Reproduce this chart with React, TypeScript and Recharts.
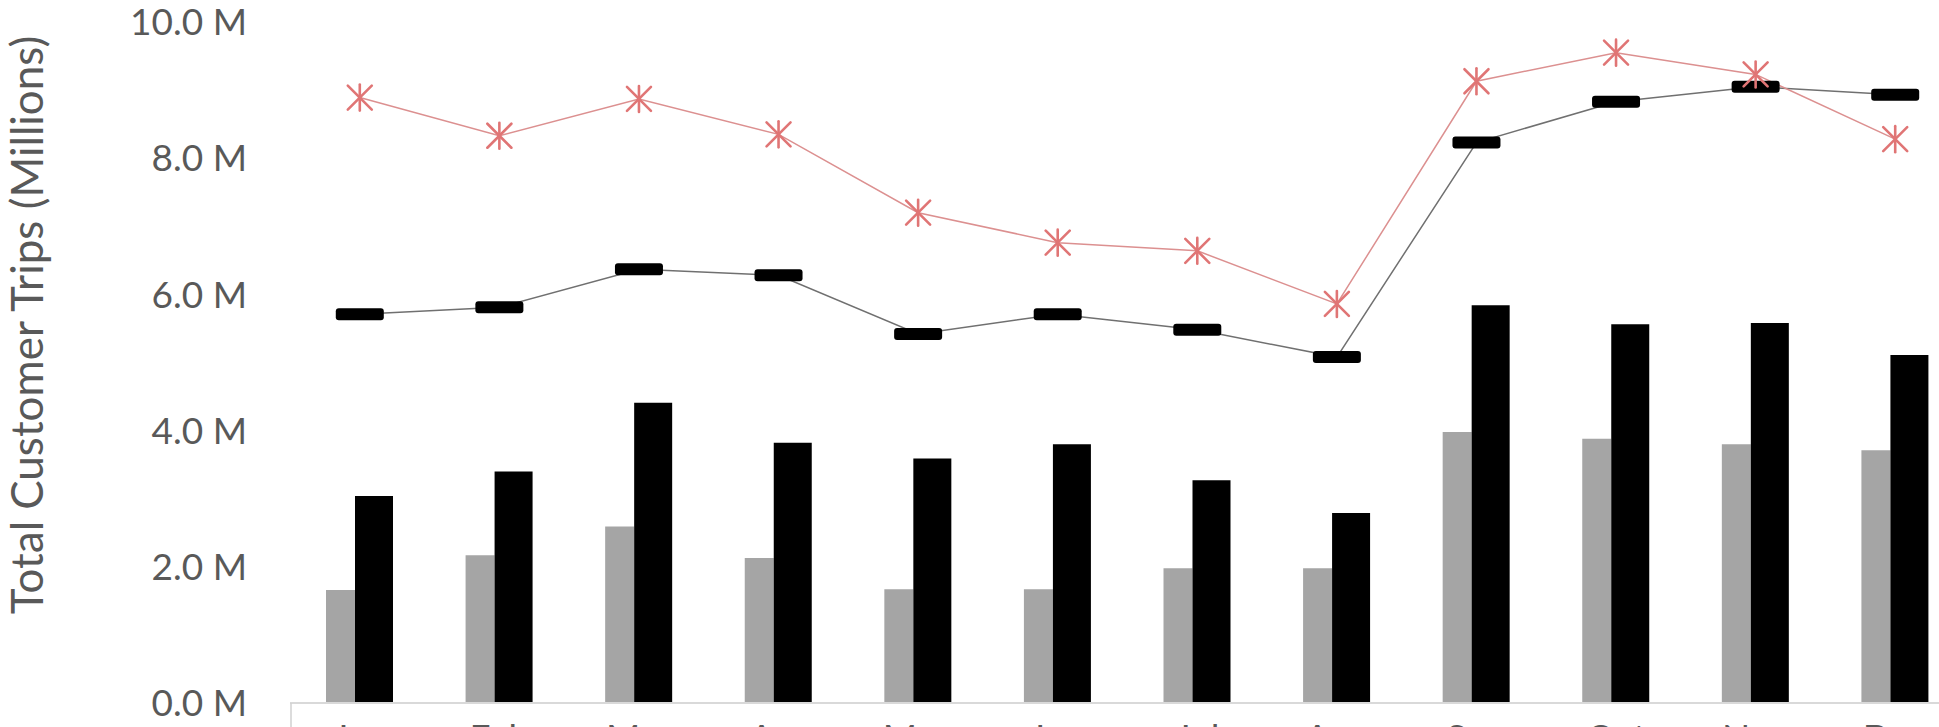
import {
  ComposedChart,
  Bar,
  Line,
  XAxis,
  YAxis,
} from 'recharts';

const MONTHS = ['Jan', 'Feb', 'Mar', 'Apr', 'May', 'Jun', 'Jul', 'Aug', 'Sep', 'Oct', 'Nov', 'Dec'];
// values in millions of trips
const GRAY_BARS = [1.66, 2.17, 2.59, 2.13, 1.67, 1.67, 1.98, 1.98, 3.98, 3.88, 3.8, 3.71];
const BLACK_BARS = [3.04, 3.4, 4.41, 3.82, 3.59, 3.8, 3.27, 2.79, 5.84, 5.56, 5.58, 5.11];
const DASH_LINE = [5.71, 5.81, 6.37, 6.28, 5.42, 5.71, 5.48, 5.08, 8.23, 8.83, 9.05, 8.93];
const STAR_LINE = [8.89, 8.33, 8.87, 8.35, 7.2, 6.76, 6.64, 5.86, 9.13, 9.55, 9.23, 8.28];
const Y_TICKS = [0, 2, 4, 6, 8, 10];

const FONT = 'Lato, "DejaVu Sans", sans-serif';
const TEXT_GRAY = '#595959';

const data = MONTHS.map((month, i) => ({
  month,
  gray: GRAY_BARS[i],
  black: BLACK_BARS[i],
  dash: DASH_LINE[i],
  star: STAR_LINE[i],
}));

function StarDot(props: any) {
  const { cx, cy } = props;
  if (cx == null || cy == null) return null;
  const r = 12;
  return (
    <g stroke="#E07575" strokeWidth={2.6} strokeLinecap="round">
      <line x1={cx} y1={cy - r - 1} x2={cx} y2={cy + r + 1} />
      <line x1={cx - r} y1={cy - r} x2={cx + r} y2={cy + r} />
      <line x1={cx - r} y1={cy + r} x2={cx + r} y2={cy - r} />
    </g>
  );
}

function DashDot(props: any) {
  const { cx, cy } = props;
  if (cx == null || cy == null) return null;
  return <rect x={cx - 24} y={cy - 6} width={48} height={12} rx={3} fill="#000" />;
}

function MonthTick(props: any) {
  const { x, y, payload, index } = props;
  const half = payload && payload.offset ? payload.offset : 70;
  return (
    <g>
      {index === 0 && (
        <line x1={x - half + 1} y1={y} x2={x - half + 1} y2={y + 30} stroke="#d0d0d0" strokeWidth={1.5} />
      )}
      <text
        x={x}
        y={y + 22}
        dy="0.71em"
        textAnchor="middle"
        fill={TEXT_GRAY}
        fontSize={37}
        fontFamily={FONT}
      >
        {payload.value}
      </text>
    </g>
  );
}

function AxisTitle() {
  return (
    <text
      x={26}
      y={325}
      transform="rotate(-90 26 325)"
      textAnchor="middle"
      dominantBaseline="central"
      fill={TEXT_GRAY}
      fontSize={44}
      fontFamily={FONT}
    >
      Total Customer Trips (Millions)
    </text>
  );
}

export default function App() {
  return (
    <div
      style={{
        position: 'fixed',
        left: 0,
        top: 0,
        width: 1939,
        height: 727,
        overflow: 'hidden',
        background: '#fff',
      }}
    >
      <ComposedChart
        width={1965}
        height={763}
        data={data}
        barGap={0}
        margin={{ top: 22, right: 0, bottom: 0, left: 0 }}
      >
        <XAxis
          dataKey="month"
          height={60}
          tickLine={false}
          tickSize={0}
          tickMargin={0}
          axisLine={{ stroke: '#d9d9d9', strokeWidth: 2 }}
          tick={<MonthTick />}
          interval={0}
        />
        <YAxis
          width={290}
          domain={[0, 10]}
          ticks={Y_TICKS}
          allowDataOverflow
          axisLine={false}
          tickLine={false}
          tickSize={0}
          tickMargin={43}
          tickFormatter={(v: number) => `${v.toFixed(1)} M`}
          tick={{ fill: TEXT_GRAY, fontSize: 37, fontFamily: FONT }}
          label={{ content: () => <AxisTitle /> }}
        />
        <Bar dataKey="gray" fill="#A5A5A5" barSize={29} isAnimationActive={false} />
        <Bar dataKey="black" fill="#000000" barSize={38} isAnimationActive={false} />
        <Line
          dataKey="dash"
          stroke="#707070"
          strokeWidth={1.5}
          dot={<DashDot />}
          activeDot={false}
          isAnimationActive={false}
        />
        <Line
          dataKey="star"
          stroke="#DC9090"
          strokeWidth={1.5}
          dot={<StarDot />}
          activeDot={false}
          isAnimationActive={false}
        />
      </ComposedChart>
    </div>
  );
}
